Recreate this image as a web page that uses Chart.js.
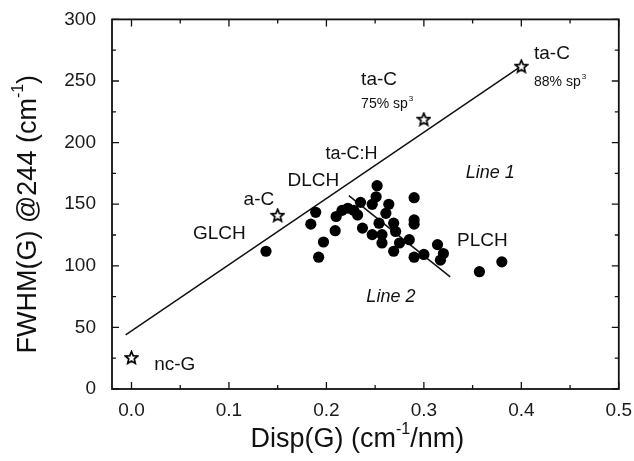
<!DOCTYPE html>
<html>
<head>
<meta charset="utf-8">
<script src="https://cdn.jsdelivr.net/npm/chart.js@4.4.1/dist/chart.umd.min.js"></script>
<style>
  html, body { margin: 0; padding: 0; background: #fff; }
  #wrap { width: 634px; height: 461px; position: relative; }
</style>
</head>
<body>
<div id="wrap"><canvas id="chart"></canvas></div>
<script>
  // ===== data =====
  const circleX = [0.138, 0.189, 0.184, 0.197, 0.192, 0.209, 0.210, 0.216, 0.222, 0.228, 0.235, 0.232, 0.237,
                   0.247, 0.251, 0.252, 0.264, 0.261, 0.254, 0.247, 0.257, 0.269, 0.271, 0.257, 0.275, 0.285,
                   0.269, 0.290, 0.290, 0.290, 0.290, 0.300, 0.314, 0.320, 0.317, 0.357, 0.380];
  const circleY = [111.8, 143.4, 133.8, 119.3, 107.0, 128.5, 140.0, 145.0, 146.7, 145.0, 151.5, 141.3, 130.6,
                   149.9, 156.0, 165.0, 149.9, 142.6, 134.6, 125.3, 125.3, 134.6, 127.9, 118.5, 118.5, 121.2,
                   111.8, 155.3, 137.3, 133.8, 107.0, 109.2, 117.2, 110.0, 104.6, 95.2, 103.2];

  const starX = [0.0, 0.15, 0.30, 0.40];
  const starY = [25.5, 141, 219, 262];

  const line1X = [-0.006, 0.398];
  const line1Y = [44, 261];
  const line2X = [0.223, 0.327];
  const line2Y = [157, 91];

  const xTickValues = [0.0, 0.1, 0.2, 0.3, 0.4, 0.5];
  const yTickValues = [0, 50, 100, 150, 200, 250, 300];
  const xMinorValues = [0.05, 0.15, 0.25, 0.35, 0.45];
  const yMinorValues = [25, 75, 125, 175, 225, 275];

  // annotations (left edge / vertical middle, in data units)
  const annText  = ['ta-C', '75% sp', 'ta-C', '88% sp', 'ta-C:H', 'DLCH', 'a-C', 'GLCH', 'Line 1', 'Line 2', 'PLCH', 'nc-G'];
  const annSup   = ['', '3', '', '3', '', '', '', '', '', '', '', ''];
  const annX     = [0.2356, 0.2356, 0.413, 0.413, 0.199, 0.160, 0.115, 0.063, 0.343, 0.241, 0.334, 0.0233];
  const annY     = [251, 231, 272, 249, 191, 169, 154, 126, 175, 74.4, 120, 20];
  const annSize  = [19, 14, 19, 14, 18, 19, 19, 19, 18, 18, 19, 19];
  const annItal  = [false, false, false, false, false, false, false, false, true, true, false, false];

  const FONT = '"Liberation Sans", Arial, sans-serif';

  // open star marker
  function makeStar(size) {
    const c = document.createElement('canvas');
    c.width = size; c.height = size;
    const g = c.getContext('2d');
    const cx = size / 2, cy = size / 2 + 0.5, ro = size / 2 - 1, ri = ro * 0.45;
    g.beginPath();
    for (let i = 0; i < 10; i++) {
      const r = i % 2 === 0 ? ro : ri;
      const a = -Math.PI / 2 + i * Math.PI / 5;
      const px = cx + r * Math.cos(a), py = cy + r * Math.sin(a);
      if (i === 0) g.moveTo(px, py); else g.lineTo(px, py);
    }
    g.closePath();
    g.fillStyle = '#fff';
    g.fill();
    g.lineWidth = 1.7;
    g.strokeStyle = '#000';
    g.stroke();
    return c;
  }

  function drawSupText(ctx, x, y, main, sup, size, italic) {
    ctx.font = (italic ? 'italic ' : '') + size + 'px ' + FONT;
    ctx.textAlign = 'left';
    ctx.textBaseline = 'middle';
    ctx.fillText(main, x, y);
    if (sup) {
      const w = ctx.measureText(main).width;
      ctx.font = Math.round(size * 0.6) + 'px ' + FONT;
      ctx.fillText(sup, x + w + 1, y - size * 0.42);
    }
  }

  // frame, inward ticks, annotations, axis titles
  const decorPlugin = {
    id: 'decor',
    afterDatasetsDraw(chart) {
      const ctx = chart.ctx;
      const a = chart.chartArea;
      const xs = chart.scales.x, ys = chart.scales.y;
      ctx.save();
      ctx.strokeStyle = '#111';
      ctx.lineWidth = 1.8;
      ctx.strokeRect(a.left, a.top, a.right - a.left, a.bottom - a.top);

      ctx.lineWidth = 1.3;
      ctx.beginPath();
      const tick = (vals, len) => {
        vals.forEach(v => {
          const px = xs.getPixelForValue(v);
          ctx.moveTo(px, a.bottom); ctx.lineTo(px, a.bottom - len);
          ctx.moveTo(px, a.top); ctx.lineTo(px, a.top + len);
        });
      };
      const tickY = (vals, len) => {
        vals.forEach(v => {
          const py = ys.getPixelForValue(v);
          ctx.moveTo(a.left, py); ctx.lineTo(a.left + len, py);
          ctx.moveTo(a.right, py); ctx.lineTo(a.right - len, py);
        });
      };
      tick(xTickValues, 7); tick(xMinorValues, 4);
      tickY(yTickValues, 7); tickY(yMinorValues, 4);
      ctx.stroke();

      ctx.fillStyle = '#111';
      annText.forEach((t, i) => {
        drawSupText(ctx, xs.getPixelForValue(annX[i]), ys.getPixelForValue(annY[i]), t, annSup[i], annSize[i], annItal[i]);
      });

      // x title
      const tSize = 27;
      ctx.font = tSize + 'px ' + FONT;
      const p1 = 'Disp(G) (cm', s1 = '-1', p2 = '/nm)';
      const w1 = ctx.measureText(p1).width, w3 = ctx.measureText(p2).width;
      ctx.font = Math.round(tSize * 0.6) + 'px ' + FONT;
      const w2 = ctx.measureText(s1).width;
      let x0 = (a.left + a.right) / 2 - 8 - (w1 + w2 + w3) / 2;
      const ty = a.bottom + 51;
      ctx.textBaseline = 'middle'; ctx.textAlign = 'left';
      ctx.font = tSize + 'px ' + FONT;
      ctx.fillText(p1, x0, ty);
      ctx.font = Math.round(tSize * 0.6) + 'px ' + FONT;
      ctx.fillText(s1, x0 + w1, ty - 10);
      ctx.font = tSize + 'px ' + FONT;
      ctx.fillText(p2, x0 + w1 + w2, ty);

      // y title
      ctx.save();
      ctx.translate(29, (a.top + a.bottom) / 2 + 10);
      ctx.rotate(-Math.PI / 2);
      const q1 = 'FWHM(G) @244 (cm', q2 = '-1', q3 = ')';
      ctx.font = tSize + 'px ' + FONT;
      const v1 = ctx.measureText(q1).width, v3 = ctx.measureText(q3).width;
      ctx.font = Math.round(tSize * 0.6) + 'px ' + FONT;
      const v2 = ctx.measureText(q2).width;
      let y0 = -(v1 + v2 + v3) / 2;
      ctx.font = tSize + 'px ' + FONT;
      ctx.fillText(q1, y0, 0);
      ctx.font = Math.round(tSize * 0.6) + 'px ' + FONT;
      ctx.fillText(q2, y0 + v1, -10);
      ctx.font = tSize + 'px ' + FONT;
      ctx.fillText(q3, y0 + v1 + v2, 0);
      ctx.restore();

      ctx.restore();
    }
  };

  const toPts = (xs, ys) => xs.map((x, i) => ({ x: x, y: ys[i] }));

  const starImg = makeStar(15);

  new Chart(document.getElementById('chart'), {
    type: 'scatter',
    data: {
      datasets: [
        { data: toPts(line1X, line1Y), showLine: true, borderColor: '#111', borderWidth: 1.5, pointRadius: 0, order: 3 },
        { data: toPts(line2X, line2Y), showLine: true, borderColor: '#111', borderWidth: 1.5, pointRadius: 0, order: 3 },
        { data: toPts(circleX, circleY), pointRadius: 5.6, backgroundColor: '#000', borderWidth: 0, order: 2 },
        { data: toPts(starX, starY), pointStyle: starImg, pointRadius: 7, order: 1 }
      ]
    },
    options: {
      responsive: true,
      maintainAspectRatio: false,
      animation: false,
      layout: { padding: { top: 16, right: 13, left: 0, bottom: 0 } },
      plugins: { legend: { display: false }, tooltip: { enabled: false } },
      scales: {
        x: {
          type: 'linear', min: -0.02, max: 0.5,
          grid: { display: false }, border: { display: false },
          afterBuildTicks: s => { s.ticks = xTickValues.map(v => ({ value: v })); },
          afterFit: s => { s.height = 72; },
          ticks: { padding: 2, color: '#1a1a1a', font: { family: FONT, size: 19 }, callback: v => v.toFixed(1), maxRotation: 0 }
        },
        y: {
          type: 'linear', min: 0, max: 300,
          grid: { display: false }, border: { display: false },
          afterBuildTicks: s => { s.ticks = yTickValues.map(v => ({ value: v })); },
          afterFit: s => { s.width = 112; },
          ticks: { padding: 8, color: '#1a1a1a', font: { family: FONT, size: 19 } }
        }
      }
    },
    plugins: [decorPlugin]
  });
</script>
</body>
</html>
